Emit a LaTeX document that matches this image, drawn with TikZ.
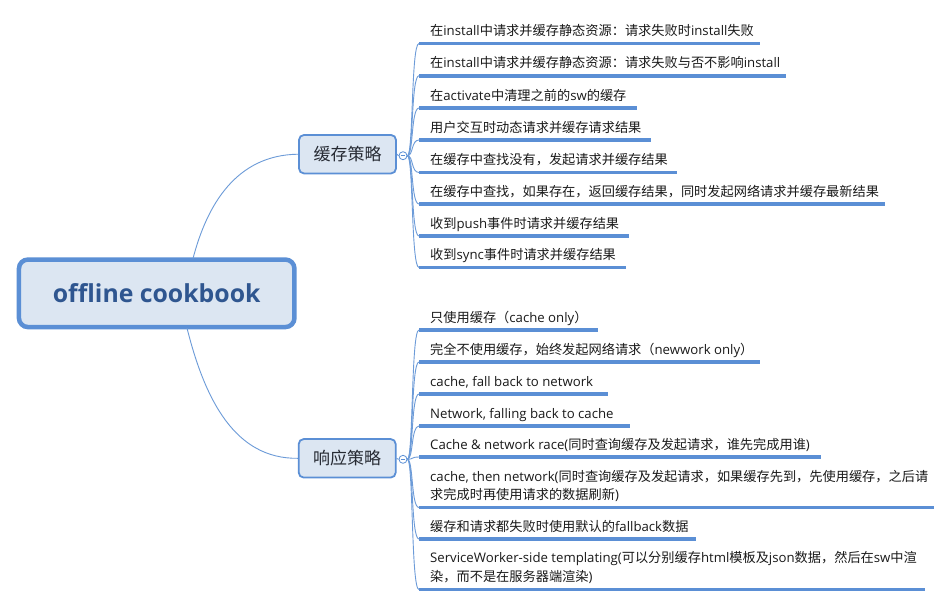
\documentclass[tikz,border=0pt]{standalone}
\usepackage{fontspec}
\setmainfont{Open Sans}
\newfontfamily\cjkf{Noto Sans CJK SC}
\newfontfamily\rootf[Ligatures=NoCommon]{Open Sans}
\newcommand\zh[1]{{\cjkf #1}}
\definecolor{mmblue}{HTML}{5B8FD5}
\definecolor{mmline}{HTML}{6C9BD8}
\definecolor{mmfill}{HTML}{DCE6F2}
\definecolor{roottext}{HTML}{2F5690}
\definecolor{leaftext}{HTML}{1A1A1A}
\definecolor{branchtext}{HTML}{262A33}
\begin{document}
\begin{tikzpicture}[x=1pt,y=-1pt,
  leaf/.style={anchor=base west, inner sep=0pt, font=\fontsize{13.2}{16}\selectfont, text=leaftext},
  uline/.style={draw=mmblue, line width=3.6pt},
  conn/.style={draw=mmline, line width=0.9pt},
  rootbox/.style={draw=mmblue, line width=4.5pt, fill=mmfill, rounded corners=9pt,
    minimum width=275.5pt, minimum height=67.5pt, inner sep=0pt,
    font=\fontsize{24.8}{28}\selectfont\rootf\bfseries, text=roottext},
  branchbox/.style={draw=mmblue, line width=1.8pt, fill=mmfill, rounded corners=5pt,
    minimum width=97pt, minimum height=38.5pt, inner sep=0pt,
    font=\fontsize{17}{20}\selectfont\cjkf, text=branchtext},
  fold/.style={circle, draw=mmblue, fill=white, line width=0.8pt, minimum size=8pt, inner sep=0pt}]
\fill[white] (0,0) rectangle (952,606);
\useasboundingbox (0,0) rectangle (952,606);

% root and branches
\node[rootbox] (root) at (156.7,293.3) {offline cookbook};
\node[branchbox] (b1) at (347.5,154.2) {缓存策略};
\node[branchbox] (b2) at (347.2,458.3) {响应策略};
\coordinate (rt) at (193,258.5);
\coordinate (rb) at (187,328);
\draw[conn] (rt) .. controls (207,205) and (236,155) .. (b1.west);
\draw[conn] (rb) .. controls (205,400) and (235,459) .. (b2.west);
\node[fold] (f1) at (403,155.7) {};
\node[fold] (f2) at (403,459.3) {};
\draw[conn] (b1.east) -- (f1.west);
\draw[conn] (b2.east) -- (f2.west);

% group 1 leaves
\coordinate (a1s) at (419,43.5);  \coordinate (a1e) at (760,43.5);
\coordinate (a2s) at (419,75.7);  \coordinate (a2e) at (786,75.7);
\coordinate (a3s) at (419,108);   \coordinate (a3e) at (637,108);
\coordinate (a4s) at (419,140);   \coordinate (a4e) at (651,140);
\coordinate (a5s) at (419,172.5); \coordinate (a5e) at (677,172.5);
\coordinate (a6s) at (419,204);   \coordinate (a6e) at (885,204);
\coordinate (a7s) at (419,236);   \coordinate (a7e) at (629,236);
\coordinate (a8s) at (419,267.5); \coordinate (a8e) at (626,267.5);
\foreach \i in {1,...,8}{
  \draw[conn] (f1.east) .. controls +(6,0) and +(-8,0) .. (a\i s);
  \draw[uline] (a\i s) -- (a\i e);
}
\node[leaf] (a1) at (430,35.5) {\zh{在}install\zh{中请求并缓存静态资源：请求失败时}install\zh{失败}};
\node[leaf] (a2) at (430,67.7) {\zh{在}install\zh{中请求并缓存静态资源：请求失败与否不影响}install};
\node[leaf] (a3) at (430,100) {\zh{在}activate\zh{中清理之前的}sw\zh{的缓存}};
\node[leaf] (a4) at (430,132) {\zh{用户交互时动态请求并缓存请求结果}};
\node[leaf] (a5) at (430,164.5) {\zh{在缓存中查找没有，发起请求并缓存结果}};
\node[leaf] (a6) at (430,196) {\zh{在缓存中查找，如果存在，返回缓存结果，同时发起网络请求并缓存最新结果}};
\node[leaf] (a7) at (430,228) {\zh{收到}push\zh{事件时请求并缓存结果}};
\node[leaf] (a8) at (430,259.5) {\zh{收到}sync\zh{事件时请求并缓存结果}};

% group 2 leaves
\coordinate (c1s) at (419,330);   \coordinate (c1e) at (598,330);
\coordinate (c2s) at (419,362);   \coordinate (c2e) at (760,362);
\coordinate (c3s) at (419,394);   \coordinate (c3e) at (608,394);
\coordinate (c4s) at (419,426);   \coordinate (c4e) at (630,426);
\coordinate (c5s) at (419,457);   \coordinate (c5e) at (821,457);
\coordinate (c6s) at (419,507.5); \coordinate (c6e) at (934,507.5);
\coordinate (c7s) at (419,539);   \coordinate (c7e) at (696,539);
\coordinate (c8s) at (419,589.5); \coordinate (c8e) at (925,589.5);
\foreach \i in {1,...,8}{
  \draw[conn] (f2.east) .. controls +(6,0) and +(-8,0) .. (c\i s);
  \draw[uline] (c\i s) -- (c\i e);
}
\node[leaf] (c1) at (430,322) {\zh{只使用缓存（}cache only\zh{）}};
\node[leaf] (c2) at (430,354) {\zh{完全不使用缓存，始终发起网络请求（}newwork only\zh{）}};
\node[leaf] (c3) at (430,386) {cache, fall back to network};
\node[leaf] (c4) at (430,418) {Network, falling back to cache};
\node[leaf] (c5) at (430,449) {Cache \& network race(\zh{同时查询缓存及发起请求，谁先完成用谁})};
\node[leaf] (c6a) at (430,481.4) {cache, then network(\zh{同时查询缓存及发起请求，如果缓存先到，先使用缓存，之后请}};
\node[leaf] (c6b) at (430,499.5) {\zh{求完成时再使用请求的数据刷新})};
\node[leaf] (c7) at (430,531) {\zh{缓存和请求都失败时使用默认的}fallback\zh{数据}};
\node[leaf] (c8a) at (430,562.4) {ServiceWorker-side templating(\zh{可以分别缓存}html\zh{模板及}json\zh{数据，然后在}sw\zh{中渲}};
\node[leaf] (c8b) at (430,581.5) {\zh{染，而不是在服务器端渲染})};

% fold minus signs
\draw[mmblue, line width=0.8pt] ([xshift=-2.2pt]f1.center) -- ([xshift=2.2pt]f1.center);
\draw[mmblue, line width=0.8pt] ([xshift=-2.2pt]f2.center) -- ([xshift=2.2pt]f2.center);
\end{tikzpicture}
\end{document}
